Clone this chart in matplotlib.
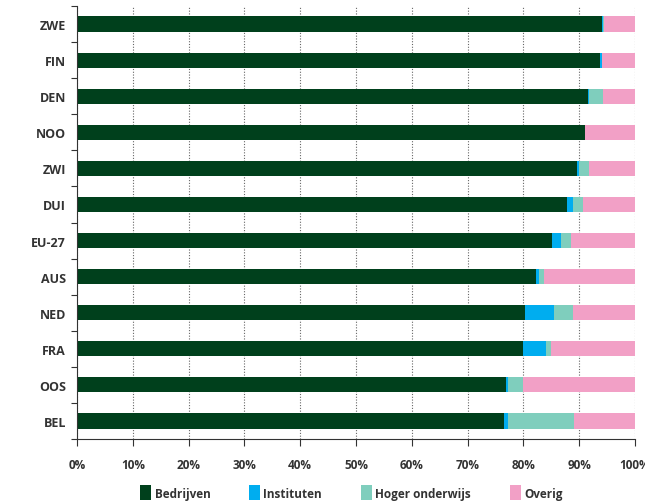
import numpy as np
import matplotlib
matplotlib.use('Agg')
import matplotlib.pyplot as plt

# Share of R&D spending per sector, by country (percent)
landen = ['ZWE', 'FIN', 'DEN', 'NOO', 'ZWI', 'DUI', 'EU-27', 'AUS', 'NED', 'FRA', 'OOS', 'BEL']
bedrijven = [94.0, 93.7, 91.5, 91.0, 89.6, 87.9, 85.2, 82.2, 80.2, 79.9, 76.8, 76.6]
instituten = [0.2, 0.3, 0.2, 0.0, 0.3, 1.0, 1.6, 0.6, 5.2, 4.1, 0.4, 0.6]
hoger_onderwijs = [0.3, 0.0, 2.5, 0.0, 1.9, 1.7, 1.8, 0.9, 3.4, 1.0, 2.8, 11.8]
overig = [5.5, 6.0, 5.8, 9.0, 8.2, 9.4, 11.4, 16.3, 11.2, 15.0, 20.0, 11.0]

sectoren = ['Bedrijven', 'Instituten', 'Hoger onderwijs', 'Overig']
kleuren = ['#00401c', '#00adef', '#7fcebd', '#f2a0c6']
xticks = [0, 10, 20, 30, 40, 50, 60, 70, 80, 90, 100]

plt.rcParams['font.family'] = ['Open Sans', 'DejaVu Sans']

fig = plt.figure(figsize=(6.45, 5.02), dpi=100)
ax = fig.add_axes([77 / 645, 1 - 440 / 502, 558 / 645, 433 / 502])

y = np.arange(len(landen))
links = np.zeros(len(landen))
for waarden, naam, kleur in zip([bedrijven, instituten, hoger_onderwijs, overig], sectoren, kleuren):
    ax.barh(y, waarden, left=links, height=0.42, color=kleur, label=naam, zorder=2)
    links += np.array(waarden)

ax.set_xlim(0, 100)
ax.set_ylim(len(landen) - 0.5, -0.5)

ax.set_yticks(y)
ax.set_yticklabels(landen, fontsize=9, fontweight='bold', color='#333333')
ax.set_yticks(np.arange(-0.5, len(landen), 1), minor=True)
ax.tick_params(axis='y', which='major', length=0, pad=8)
ax.tick_params(axis='y', which='minor', length=4, width=0.8, color='#333333')

ax.set_xticks(xticks)
ax.set_xticklabels([f'{v}%' for v in xticks], fontsize=8.5, fontweight='bold', color='#333333')
ax.tick_params(axis='x', length=5, width=0.8, color='#333333', pad=9)

ax.grid(axis='x', linestyle=(0, (1, 1.5)), color='#666666', linewidth=0.8, zorder=0)
ax.set_axisbelow(True)

for side in ['top', 'right']:
    ax.spines[side].set_visible(False)
ax.spines['left'].set_color('#333333')
ax.spines['bottom'].set_color('#333333')

fig.legend(loc='lower center', bbox_to_anchor=(0.545, -0.02), ncol=4, frameon=False,
           handlelength=0.9, handleheight=1.6, handletextpad=0.3, columnspacing=3.3,
           prop={'size': 8.5, 'weight': 'bold'}, labelcolor='#333333')

plt.savefig('out.png', dpi=100)
